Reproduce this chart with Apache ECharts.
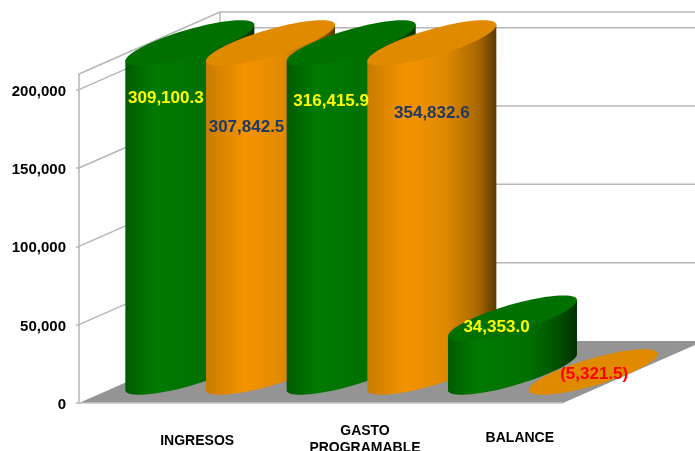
<!DOCTYPE html>
<html>
<head>
<meta charset="utf-8">
<style>html,body{margin:0;padding:0;background:#fff}#c{width:695px;height:451px}</style>
<script src="https://cdn.jsdelivr.net/npm/echarts@6/dist/echarts.min.js"></script>
</head>
<body>
<div id="c"></div>
<script>
const categories = ['INGRESOS', 'GASTO\nPROGRAMABLE', 'BALANCE'];
const greenValues = [309100.3, 316415.9, 34353.0];
const orangeValues = [307842.5, 354832.6, -5321.5];
const yTickValues = [0, 50000, 100000, 150000, 200000];
const yAxisMax = 210000;
const wallLevels = [50000, 100000, 150000, 200000, 210000];

// 3D projection settings (pixels)
const DEPTH_X = 141, DEPTH_Y = -62;
const UX = 39.5, VX = 51, VY = 22.8;
const LABEL_OFFSETS = {
  green: [[-24, 55], [-20, 58], [-16, 9]],
  orange: [[-24, 84.5], [0, 70], [1, 2.5]]
};
const LABEL_COLORS = {
  green: ['#ffff00', '#ffff00', '#ffff00'],
  orange: ['#1f3864', '#1f3864', '#ff0000']
};
const PAINT = {
  green: {
    top: '#007000',
    stops: [[0, '#005a00'], [0.22, '#007a00'], [0.62, '#007000'], [0.86, '#005000'], [1, '#003000']]
  },
  orange: {
    top: '#e08a00',
    stops: [[0, '#c87c00'], [0.3, '#f59300'], [0.6, '#e08a00'], [0.86, '#a86800'], [1, '#5a3800']]
  }
};

function fmt(v) {
  const s = Math.abs(v).toLocaleString('en-US', { minimumFractionDigits: 1, maximumFractionDigits: 1 });
  return v < 0 ? '(' + s + ')' : s;
}
function ellipsePoint(c, t) {
  return [c[0] + UX * Math.cos(t) + VX * Math.sin(t), c[1] - VY * Math.sin(t)];
}
const TR = Math.atan2(VX, UX);

function renderWalls(params, api) {
  const i = params.dataIndex;
  const cs = params.coordSys;
  const y = api.coord([0, api.value(1)])[1];
  const line = { stroke: '#b6b6b6', lineWidth: 1.5, fill: null };
  const children = [{
    type: 'polyline',
    shape: { points: [[cs.x, y], [cs.x + DEPTH_X, y + DEPTH_Y], [cs.x + cs.width + DEPTH_X, y + DEPTH_Y]] },
    style: line
  }];
  if (i === 0) {
    const y0 = api.coord([0, 0])[1];
    const yTop = api.coord([0, yAxisMax])[1];
    children.unshift({
      type: 'polygon',
      shape: { points: [[cs.x, y0], [cs.x + cs.width, y0], [cs.x + cs.width + DEPTH_X, y0 + DEPTH_Y], [cs.x + DEPTH_X, y0 + DEPTH_Y]] },
      style: { fill: '#949494' }
    });
    children.push({
      type: 'line',
      shape: { x1: cs.x + DEPTH_X, y1: y0 + DEPTH_Y, x2: cs.x + DEPTH_X, y2: yTop + DEPTH_Y },
      style: line
    });
  }
  return { type: 'group', children };
}

function makeCylinders(key, sign) {
  return function (params, api) {
    const i = api.value(0), v = api.value(1);
    const band = api.size([1, 0])[0];
    const clipped = Math.min(Math.max(v, 0), yAxisMax);
    const base = api.coord([i, 0]);
    const top = api.coord([i, clipped]);
    const cx = base[0] + sign * band / 4 + DEPTH_X / 2;
    const cb = [cx, base[1] + DEPTH_Y / 2];
    const ct = [cx, top[1] + DEPTH_Y / 2];
    const paint = PAINT[key];
    const order = i * 2 + (sign > 0 ? 1 : 0) + 10;
    const flat = v <= 0;
    const children = [];
    const topPts = [];
    for (let k = 0; k < 72; k++) topPts.push(ellipsePoint(ct, k / 72 * Math.PI * 2));
    if (!flat) {
      const pts = [];
      for (let k = 0; k <= 36; k++) pts.push(ellipsePoint(cb, TR + Math.PI + k / 36 * Math.PI));
      pts.push(ellipsePoint(ct, TR));
      pts.push(ellipsePoint(ct, TR + Math.PI));
      children.push({
        type: 'polygon', z2: order,
        shape: { points: pts },
        style: {
          fill: new echarts.graphic.LinearGradient(0, 0, 1, 0,
            paint.stops.map(s => ({ offset: s[0], color: s[1] })))
        }
      });
    }
    children.push({
      type: 'polygon', z2: flat ? 1 : order,
      shape: { points: topPts },
      style: { fill: paint.top }
    });
    const off = LABEL_OFFSETS[key][i];
    children.push({
      type: 'text', z2: 100,
      style: {
        x: cx + off[0], y: ct[1] + off[1],
        text: fmt(v),
        fill: LABEL_COLORS[key][i],
        font: 'bold 17px "Liberation Sans", Arial, sans-serif',
        align: 'center', verticalAlign: 'middle'
      }
    });
    return { type: 'group', children };
  };
}

const chart = echarts.init(document.getElementById('c'), null, { renderer: 'canvas' });
const catFont = { fontFamily: '"Liberation Sans", Arial, sans-serif', fontWeight: 'bold', fontSize: 14, color: '#000', lineHeight: 17 };
chart.setOption({
  animation: false,
  backgroundColor: '#fff',
  grid: { left: 79, top: 74, width: 484, height: 329, containLabel: false, outerBoundsMode: 'none' },
  xAxis: {
    type: 'category',
    data: categories,
    z: 5,
    axisLine: { show: true, lineStyle: { color: '#c4c4c4', width: 1.5 } },
    axisTick: { show: false },
    axisLabel: {
      interval: 0, margin: 37, verticalAlign: 'middle',
      formatter: function (val, idx) {
        const tag = ['a', 'b', 'c'][idx];
        return val.split('\n').map(s => '{' + tag + '|' + s + '}').join('\n');
      },
      rich: {
        a: Object.assign({}, catFont, { padding: [3, 0, 0, 75] }),
        b: Object.assign({}, catFont, { padding: [0, 0, 0, 88] }),
        c: Object.assign({}, catFont, { padding: [0, 0, 4, 75] })
      }
    }
  },
  yAxis: {
    type: 'value',
    min: 0, max: yAxisMax,
    z: 5,
    splitLine: { show: false },
    axisLine: { show: true, lineStyle: { color: '#b6b6b6', width: 1.5 } },
    axisTick: { show: true, length: 3, customValues: yTickValues, lineStyle: { color: '#b6b6b6', width: 1.5 } },
    axisLabel: {
      customValues: yTickValues,
      margin: 13,
      formatter: v => '{t|' + v.toLocaleString('en-US') + '}',
      rich: {
        t: {
          fontFamily: '"Liberation Sans", Arial, sans-serif',
          fontWeight: 'bold', fontSize: 15, color: '#000',
          padding: [4, 0, 0, 0]
        }
      }
    }
  },
  series: [
    {
      type: 'custom', z: 1, silent: true, clip: false,
      renderItem: renderWalls,
      data: wallLevels.map(v => [0, v]),
      encode: { x: 0, y: 1 }
    },
    {
      type: 'custom', z: 2, silent: true, clip: false,
      renderItem: makeCylinders('green', -1),
      data: greenValues.map((v, i) => [i, v]),
      encode: { x: 0, y: 1 }
    },
    {
      type: 'custom', z: 2, silent: true, clip: false,
      renderItem: makeCylinders('orange', 1),
      data: orangeValues.map((v, i) => [i, v]),
      encode: { x: 0, y: 1 }
    }
  ]
});
</script>
</body>
</html>
